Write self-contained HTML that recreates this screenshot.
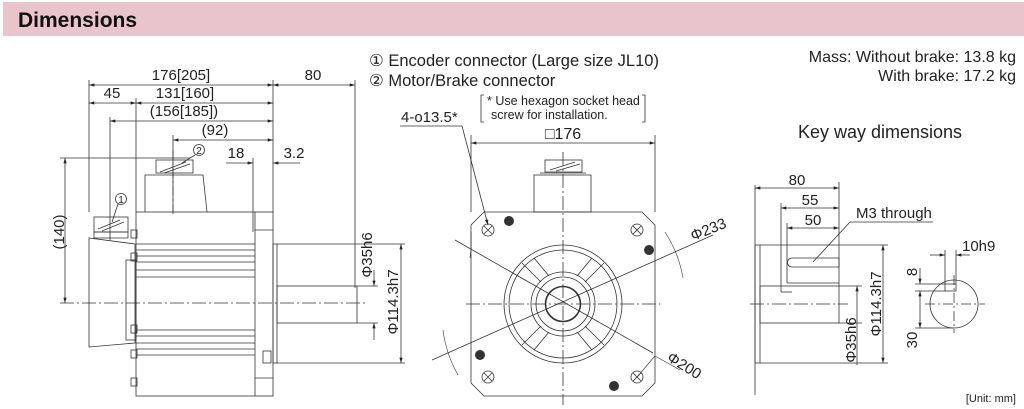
<!DOCTYPE html>
<html><head><meta charset="utf-8"><style>
html,body{margin:0;padding:0;background:#fff;}
svg{display:block;font-family:"Liberation Sans",sans-serif;}
</style></head><body>
<svg width="1024" height="409" viewBox="0 0 1024 409" xmlns="http://www.w3.org/2000/svg">
<defs>
<marker id="a" viewBox="0 0 10 6" refX="10" refY="3" markerWidth="7" markerHeight="4" orient="auto-start-reverse"><path d="M0,0 L10,3 L0,6 z" fill="#222"/></marker>
</defs>
<rect x="3" y="2" width="1021" height="34" fill="#e9c4cc"/>
<text x="18" y="27" font-size="21" font-weight="bold" fill="#111">Dimensions</text>

<g stroke="#333" stroke-width="0.8" fill="none">
<line x1="89" y1="80" x2="89" y2="212"/>
<line x1="136" y1="98" x2="136" y2="212"/>
<line x1="110" y1="117" x2="110" y2="240"/>
<line x1="173" y1="135" x2="173" y2="212"/>
<line x1="253" y1="158" x2="253" y2="232"/>
<line x1="273" y1="80" x2="273" y2="212"/>
<line x1="355" y1="80" x2="355" y2="288"/>
<line x1="89" y1="85" x2="273" y2="85" marker-start="url(#a)" marker-end="url(#a)"/>
<line x1="273" y1="85" x2="355" y2="85" marker-start="url(#a)" marker-end="url(#a)"/>
<line x1="89" y1="103" x2="136" y2="103" marker-start="url(#a)" marker-end="url(#a)"/>
<line x1="136" y1="103" x2="273" y2="103" marker-start="url(#a)" marker-end="url(#a)"/>
<line x1="110" y1="121" x2="273" y2="121" marker-start="url(#a)" marker-end="url(#a)"/>
<line x1="173" y1="140" x2="273" y2="140" marker-start="url(#a)" marker-end="url(#a)"/>
<line x1="226" y1="163" x2="253" y2="163" marker-end="url(#a)"/>
<line x1="300" y1="163" x2="273" y2="163" marker-end="url(#a)"/>
<line x1="60" y1="158" x2="190" y2="158"/>
<line x1="65" y1="158" x2="65" y2="303" marker-start="url(#a)" marker-end="url(#a)"/>
<line x1="60" y1="303" x2="367" y2="303" stroke-dasharray="14 3 2 3"/>
<line x1="173" y1="150" x2="173" y2="215" stroke-dasharray="10 3 2 3"/>
<rect x="136" y="212" width="137" height="184"/>
<line x1="255" y1="212" x2="255" y2="396"/>
<line x1="136" y1="244" x2="255" y2="244"/><line x1="136" y1="250" x2="255" y2="250"/>
<line x1="136" y1="256" x2="255" y2="256"/><line x1="136" y1="262" x2="255" y2="262"/>
<line x1="136" y1="270" x2="255" y2="270"/><line x1="136" y1="277" x2="255" y2="277"/>
<line x1="136" y1="330" x2="255" y2="330"/><line x1="136" y1="336" x2="255" y2="336"/>
<line x1="136" y1="343" x2="255" y2="343"/><line x1="136" y1="349" x2="255" y2="349"/>
<line x1="136" y1="355" x2="255" y2="355"/>
<line x1="255" y1="230" x2="273" y2="230"/><line x1="255" y1="378" x2="273" y2="378"/>
<rect x="273" y="244" width="4" height="119"/>
<rect x="277" y="286" width="80" height="37"/>
<path d="M89,238 L89,347 L135,343 L135,244 Z"/>
<rect x="126" y="260" width="10" height="80"/>
<path d="M94,232 L128,232 L128,238 L94,238 Z"/>
<rect x="94" y="217" width="34" height="15"/>
<line x1="98" y1="229" x2="120" y2="220"/><line x1="102" y1="231" x2="124" y2="222"/>
<rect x="131" y="230" width="6" height="8"/><rect x="131" y="325" width="6" height="8"/>
<rect x="131" y="350" width="6" height="8"/><rect x="131" y="378" width="6" height="8"/>
<rect x="131" y="253" width="6" height="8"/>
<rect x="263" y="351" width="8" height="12"/>
<path d="M145,212 L145,175 L203,175 L207,212"/>
<rect x="156" y="160" width="37" height="13"/>
<line x1="160" y1="172" x2="186" y2="162"/><line x1="164" y1="173" x2="190" y2="164"/>
<circle cx="121" cy="199" r="5.5"/><circle cx="199" cy="150" r="5.5"/>
<line x1="118" y1="204" x2="112" y2="222"/><line x1="195" y1="155" x2="182" y2="163"/>
<line x1="277" y1="244" x2="405" y2="244"/>
<line x1="277" y1="363" x2="405" y2="363"/>
<line x1="357" y1="286" x2="378" y2="286"/><line x1="357" y1="323" x2="378" y2="323"/>
<line x1="401" y1="244" x2="401" y2="363" marker-start="url(#a)" marker-end="url(#a)"/>
<line x1="374" y1="270" x2="374" y2="286" marker-end="url(#a)"/>
<line x1="374" y1="340" x2="374" y2="323" marker-end="url(#a)"/>

<path d="M484,212 L642,212 L655,225 L655,383 L642,396 L484,396 L471,383 L471,225 Z"/>
<line x1="471" y1="135" x2="471" y2="212"/><line x1="655" y1="135" x2="655" y2="212"/>
<line x1="471" y1="143" x2="655" y2="143" marker-start="url(#a)" marker-end="url(#a)"/>
<rect x="534" y="175" width="57" height="37"/>
<rect x="545" y="160" width="37" height="12"/>
<line x1="540" y1="173" x2="586" y2="173"/>
<line x1="550" y1="170" x2="575" y2="162"/><line x1="556" y1="171" x2="580" y2="164"/>
<line x1="563" y1="152" x2="563" y2="405" stroke-dasharray="14 3 2 3"/>
<line x1="466" y1="304" x2="660" y2="304" stroke-dasharray="14 3 2 3"/>
<circle cx="563" cy="304" r="59"/><circle cx="563" cy="304" r="54"/>
<circle cx="563" cy="304" r="32"/><circle cx="563" cy="304" r="27"/>
<circle cx="563" cy="304" r="17.5" stroke-width="1.6"/>
<path d="M541,282 L522,263 M585,282 L604,263 M541,326 L522,345 M585,326 L604,345"/>
<path d="M549,276 L534,258 M577,276 L592,258 M549,332 L534,350 M577,332 L592,350"/>
<g>
<circle cx="488" cy="230" r="6"/><path d="M484,226 l8,8 M492,226 l-8,8"/>
<circle cx="637" cy="230" r="6"/><path d="M633,226 l8,8 M641,226 l-8,8"/>
<circle cx="488" cy="377" r="6"/><path d="M484,373 l8,8 M492,373 l-8,8"/>
<circle cx="637" cy="377" r="6"/><path d="M633,373 l8,8 M641,373 l-8,8"/>
</g>
<line x1="455" y1="240" x2="653" y2="353"/>
<line x1="432" y1="360" x2="713" y2="235"/>
<path d="M665,232 A122,122 0 0 1 683,278" stroke-width="0.6"/>
<path d="M443,330 A122,122 0 0 0 458,375" stroke-width="0.6"/>
<path d="M471,250 A105,105 0 0 0 470,258" stroke-width="0.6"/>
<line x1="400" y1="126" x2="462" y2="126"/>
<line x1="462" y1="126" x2="488" y2="225" marker-end="url(#a)"/>
<line x1="471" y1="232" x2="471" y2="250"/>
<line x1="655" y1="356" x2="680" y2="370" stroke-width="0.6"/>
<line x1="637" y1="377" x2="655" y2="356" stroke-width="0.6"/>
<path d="M484,95 L481,95 L481,122 L484,122 M642,95 L645,95 L645,122 L642,122"/>

<line x1="755" y1="185" x2="755" y2="395"/>
<rect x="755" y="245" width="5" height="118"/>
<rect x="760" y="286" width="79" height="37"/>
<path d="M792,258 L839,258 L839,267 L792,267 A4.5,4.5 0 0 1 792,258 Z"/>
<line x1="787" y1="283" x2="839" y2="283"/>
<line x1="839" y1="182" x2="839" y2="286"/>
<line x1="781" y1="203" x2="781" y2="292"/>
<line x1="787" y1="223" x2="787" y2="283"/>
<line x1="781" y1="292" x2="792" y2="292"/>
<line x1="755" y1="188" x2="839" y2="188" marker-start="url(#a)" marker-end="url(#a)"/>
<line x1="781" y1="208" x2="839" y2="208" marker-start="url(#a)" marker-end="url(#a)"/>
<line x1="787" y1="228" x2="839" y2="228" marker-start="url(#a)" marker-end="url(#a)"/>
<line x1="850" y1="222" x2="933" y2="222"/>
<line x1="850" y1="222" x2="813" y2="262"/>
<line x1="750" y1="304" x2="848" y2="304" stroke-dasharray="14 3 2 3"/>
<line x1="760" y1="245" x2="888" y2="245"/><line x1="760" y1="363" x2="888" y2="363"/>
<line x1="839" y1="286" x2="862" y2="286"/><line x1="839" y1="323" x2="862" y2="323"/>
<line x1="883" y1="245" x2="883" y2="363" marker-start="url(#a)" marker-end="url(#a)"/>
<line x1="857" y1="286" x2="857" y2="365" marker-start="url(#a)"/>
<circle cx="954" cy="304" r="24"/>
<rect x="945" y="284" width="11" height="7"/>
<line x1="925" y1="304" x2="985" y2="304" stroke-dasharray="10 3 2 3"/>
<line x1="954" y1="275" x2="954" y2="333" stroke-dasharray="10 3 2 3"/>
<line x1="945" y1="250" x2="945" y2="284"/><line x1="956" y1="250" x2="956" y2="284"/>
<line x1="930" y1="255" x2="945" y2="255" marker-end="url(#a)"/>
<line x1="970" y1="255" x2="956" y2="255" marker-end="url(#a)"/>
<line x1="915" y1="284" x2="945" y2="284"/><line x1="915" y1="291" x2="945" y2="291"/>
<line x1="915" y1="328" x2="954" y2="328"/>
<line x1="920" y1="268" x2="920" y2="284" marker-end="url(#a)"/>
<line x1="920" y1="291" x2="920" y2="328" marker-start="url(#a)" marker-end="url(#a)"/>
</g>
<g fill="#333">
<circle cx="509" cy="221" r="5"/><circle cx="649" cy="250" r="5"/>
<circle cx="480" cy="355" r="5"/><circle cx="614" cy="386" r="5"/>
</g>

<g fill="#222" font-size="15">
<text x="181" y="80" text-anchor="middle">176[205]</text>
<text x="313" y="80" text-anchor="middle">80</text>
<text x="112" y="98" text-anchor="middle">45</text>
<text x="185" y="98" text-anchor="middle">131[160]</text>
<text x="184" y="116" text-anchor="middle">(156[185])</text>
<text x="215" y="135" text-anchor="middle">(92)</text>
<text x="236" y="158" text-anchor="middle">18</text>
<text x="294" y="158" text-anchor="middle">3.2</text>
<text transform="translate(64,232) rotate(-90)" text-anchor="middle">(140)</text>
<text transform="translate(372,255) rotate(-90)" text-anchor="middle">Φ35h6</text>
<text transform="translate(398,302) rotate(-90)" text-anchor="middle">Φ114.3h7</text>
<text font-size="10" x="121" y="203" text-anchor="middle">1</text>
<text font-size="10" x="199" y="154" text-anchor="middle">2</text>
<text x="369" y="66" font-size="16.5">① Encoder connector (Large size JL10)</text>
<text x="369" y="86" font-size="16.5">② Motor/Brake connector</text>
<text x="401" y="122">4-ο13.5*</text>
<text x="487" y="105" font-size="12.5">* Use hexagon socket head</text>
<text x="491" y="119" font-size="12.5">screw for installation.</text>
<text x="563" y="139" text-anchor="middle" font-size="16">□176</text>
<text transform="translate(693,241) rotate(-22)">Φ233</text>
<text transform="translate(666,360) rotate(32)">Φ200</text>
<text x="1016" y="62" text-anchor="end" font-size="16">Mass: Without brake: 13.8 kg</text>
<text x="1016" y="81" text-anchor="end" font-size="16">With brake: 17.2 kg</text>
<text x="880" y="138" text-anchor="middle" font-size="18">Key way dimensions</text>
<text x="797" y="185" text-anchor="middle">80</text>
<text x="810" y="205" text-anchor="middle">55</text>
<text x="813" y="225" text-anchor="middle">50</text>
<text x="856" y="218">M3 through</text>
<text transform="translate(881,304) rotate(-90)" text-anchor="middle">Φ114.3h7</text>
<text transform="translate(856,340) rotate(-90)" text-anchor="middle">Φ35h6</text>
<text x="962" y="251">10h9</text>
<text transform="translate(917,272) rotate(-90)" text-anchor="middle">8</text>
<text transform="translate(917,340) rotate(-90)" text-anchor="middle">30</text>
<text x="1016" y="402" text-anchor="end" font-size="11">[Unit: mm]</text>
</g>
</svg>
</body></html>
